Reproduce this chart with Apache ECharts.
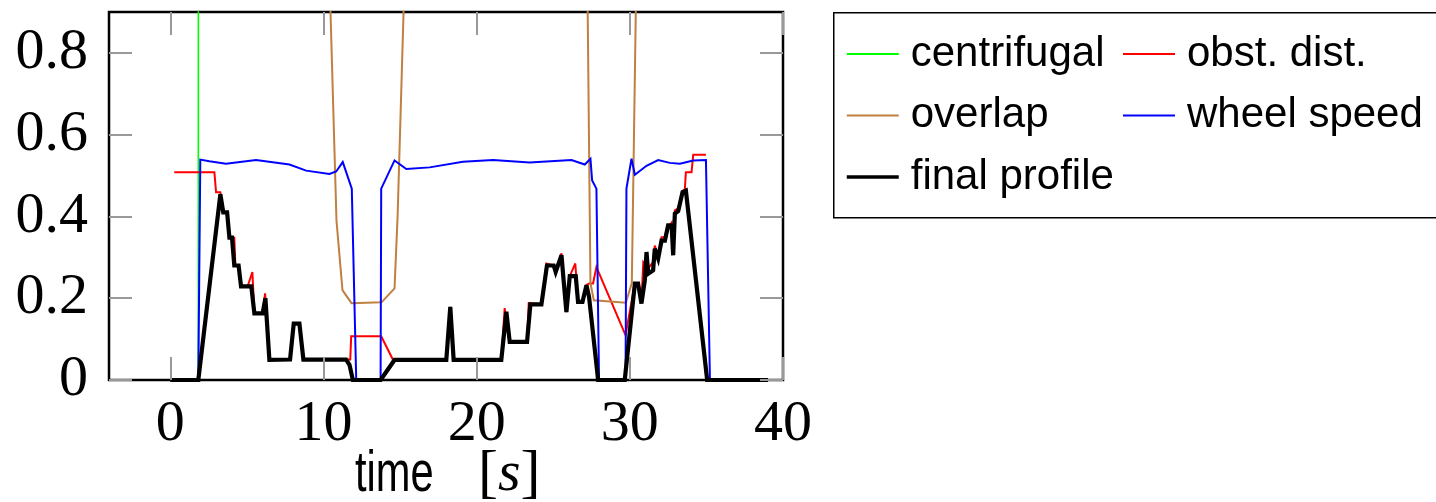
<!DOCTYPE html>
<html>
<head>
<meta charset="utf-8">
<script src="https://cdn.jsdelivr.net/npm/echarts@6/dist/echarts.min.js"></script>
<style>
html,body{margin:0;padding:0;background:#fff;}
#chart{width:1436px;height:502px;}
</style>
</head>
<body>
<div id="chart"></div>
<script>
// ---- data: [time (s), value] ----
const xTicks = [0, 10, 20, 30, 40];
const yTicks = [0, 0.2, 0.4, 0.6, 0.8];
const seriesNames = ['centrifugal', 'obst. dist.', 'overlap', 'wheel speed', 'final profile'];
const xTitle = 'time';
const xUnit = 's';

const centrifugal = [[0,0],[1.83,0],[1.84,3],[39.15,3]];

const obstDist = [[0.26,0.508],[2.88,0.508],[2.99,0.459],[3.27,0.459],[3.46,0.41],[3.71,0.41],[3.86,0.348],[4.18,0.348],[4.25,0.28],[4.46,0.28],[4.62,0.229],[5.05,0.229],[5.36,0.264],[5.49,0.163],[6.03,0.163],[6.19,0.212],[6.47,0.049],[7.82,0.05],[8.06,0.138],[8.43,0.138],[8.69,0.05],[11.75,0.05],[11.81,0.107],[13.77,0.107],[14.53,0.05],[14.64,0.049],[18.02,0.049],[18.28,0.179],[18.5,0.049],[21.61,0.049],[21.83,0.176],[22.16,0.093],[23.29,0.093],[23.4,0.188],[24.23,0.185],[24.56,0.285],[25.03,0.28],[25.16,0.268],[25.54,0.31],[25.64,0.26],[25.86,0.166],[26.08,0.254],[26.44,0.285],[26.62,0.191],[26.91,0.191],[27.17,0.232],[27.34,0.236],[27.6,0.236],[27.82,0.276],[29.72,0.11],[30.33,0.236],[30.54,0.236],[30.76,0.195],[30.88,0.288],[31.2,0.273],[31.52,0.288],[31.63,0.329],[31.85,0.305],[32.07,0.349],[32.29,0.349],[32.4,0.368],[32.73,0.385],[32.83,0.317],[32.94,0.415],[33.16,0.42],[33.44,0.463],[33.59,0.465],[33.66,0.508],[34.03,0.508],[34.14,0.551],[34.97,0.551]];

const overlap = [[10.0,1.5],[10.46,0.9],[10.85,0.39],[11.24,0.22],[11.83,0.188],[13.79,0.19],[14.64,0.224],[14.84,0.4],[15.23,0.9],[15.6,1.5],[27.2,1.5],[27.25,0.9],[27.43,0.237],[27.65,0.195],[29.74,0.189],[30.13,0.237],[30.39,0.9],[30.45,1.5]];

const wheelSpeed = [[0,0],[1.83,0],[1.96,0.539],[2.09,0.539],[2.55,0.535],[3.64,0.529],[5.6,0.538],[7.78,0.527],[8.87,0.512],[10.39,0.504],[10.83,0.51],[11.26,0.533],[11.85,0.468],[12.14,0],[13.73,0],[13.77,0.468],[14.64,0.537],[15.41,0.516],[16.93,0.52],[19.1,0.534],[21.07,0.538],[23.46,0.532],[26.19,0.538],[27.06,0.527],[27.43,0.541],[27.54,0.488],[27.82,0.468],[27.99,0],[29.72,0],[29.78,0.468],[30.11,0.541],[30.33,0.502],[31.09,0.524],[31.85,0.538],[32.61,0.531],[33.27,0.529],[34.14,0.537],[34.97,0.538],[35.23,0],[39.15,0]];

const finalProfile = [[0,0],[1.83,0],[3.27,0.454],[3.46,0.41],[3.71,0.41],[3.86,0.348],[4.03,0.348],[4.18,0.28],[4.46,0.28],[4.62,0.229],[5.05,0.229],[5.29,0.229],[5.49,0.163],[6.03,0.163],[6.21,0.2],[6.47,0.049],[7.82,0.05],[8.06,0.138],[8.43,0.138],[8.69,0.05],[11.48,0.05],[11.7,0.037],[11.92,0],[13.73,0],[14.64,0.049],[18.02,0.049],[18.28,0.179],[18.5,0.049],[21.61,0.049],[21.94,0.167],[22.16,0.093],[23.29,0.093],[23.51,0.185],[24.23,0.185],[24.59,0.28],[25.03,0.28],[25.16,0.264],[25.54,0.305],[25.64,0.26],[25.86,0.166],[26.08,0.254],[26.47,0.254],[26.62,0.191],[26.91,0.191],[27.17,0.232],[27.34,0.203],[27.93,0],[29.67,0],[30.33,0.236],[30.54,0.236],[30.76,0.187],[30.98,0.244],[31.09,0.313],[31.2,0.26],[31.52,0.268],[31.63,0.321],[31.85,0.297],[32.07,0.341],[32.29,0.341],[32.5,0.378],[32.73,0.378],[32.83,0.305],[32.94,0.407],[33.16,0.413],[33.44,0.459],[33.66,0.463],[35.05,0],[39.02,0]];

// ---- chart ----
const chart = echarts.init(document.getElementById('chart'), null, {renderer: 'canvas'});
const serif = 'Liberation Serif';
const sans = 'Liberation Sans';
const tickStyle = {show: true, inside: true, length: 23, lineStyle: {color: '#999999', width: 2}};
const noLine = {show: false, onZero: false};

function lineSeries(name, data, color, width, z) {
  return {
    name: name, type: 'line', data: data, symbol: 'none', showSymbol: false,
    clip: true, animation: false, z: z,
    lineStyle: {color: color, width: width, join: 'miter', miterLimit: 4},
    itemStyle: {color: color}
  };
}

const legendText = {fontFamily: sans, fontSize: 42, color: '#000', lineHeight: 42, padding: [0, 0, 0, 7]};
const legendCommon = {orient: 'vertical', top: 33, padding: 0, itemWidth: 52, itemHeight: 14, itemGap: 19.5, z: 5,
  itemStyle: {opacity: 0}, lineStyle: {width: 2}, textStyle: legendText};

chart.setOption({
  animation: false,
  grid: {left: 109, right: 653, top: 12, bottom: 122, show: true, borderColor: '#000', borderWidth: 2.5,
         backgroundColor: 'transparent', containLabel: false, outerBoundsMode: 'none'},
  graphic: [{
    type: 'rect', left: 833, top: 12, z: 0,
    shape: {width: 640, height: 205},
    style: {fill: '#fff', stroke: '#000', lineWidth: 1.5}
  }, {
    type: 'text', x: 355, y: 475, scaleX: 0.73, originX: 0, z: 10,
    style: {text: xTitle, fontFamily: sans, fontSize: 57, fill: '#000', align: 'left', verticalAlign: 'middle'}
  }, {
    type: 'text', x: 478, y: 475, z: 10,
    style: {text: '{b|[}{c|' + xUnit + '}{b|]}', align: 'left', verticalAlign: 'middle',
      rich: {
        b: {fontFamily: serif, fontSize: 60, fill: '#000'},
        c: {fontFamily: serif, fontStyle: 'italic', fontSize: 58, fill: '#000'}
      }}
  }],
  legend: [Object.assign({
    data: [seriesNames[0], seriesNames[2], {name: seriesNames[4], lineStyle: {width: 3.5}}],
    left: 845
  }, legendCommon), Object.assign({
    data: [seriesNames[1], seriesNames[3]],
    left: 1122
  }, legendCommon)],
  xAxis: [{
    type: 'value', min: -4, max: 40, position: 'bottom', z: 8,
    axisLine: noLine, splitLine: {show: false},
    axisTick: Object.assign({customValues: xTicks}, tickStyle),
    axisLabel: {customValues: xTicks, fontFamily: serif, fontSize: 58, color: '#000', margin: 16}
  }, {
    type: 'value', min: -4, max: 40, position: 'top', z: 8,
    axisLine: noLine, splitLine: {show: false},
    axisTick: Object.assign({customValues: xTicks}, tickStyle),
    axisLabel: {show: false}
  }],
  yAxis: [{
    type: 'value', min: 0, max: 0.9, position: 'left', z: 8,
    axisLine: noLine, splitLine: {show: false},
    axisTick: Object.assign({customValues: yTicks}, tickStyle),
    axisLabel: {customValues: yTicks, fontFamily: serif, fontSize: 58, color: '#000', margin: 21,
      formatter: function (v) { return String(v); }}
  }, {
    type: 'value', min: 0, max: 0.9, position: 'right', z: 8,
    axisLine: noLine, splitLine: {show: false},
    axisTick: Object.assign({customValues: yTicks}, tickStyle),
    axisLabel: {show: false}
  }],
  series: [
    lineSeries(seriesNames[0], centrifugal, '#00ff00', 1.6, 2),
    lineSeries(seriesNames[1], obstDist, '#ff0000', 2, 3),
    lineSeries(seriesNames[2], overlap, '#bf8040', 2, 4),
    lineSeries(seriesNames[3], wheelSpeed, '#0000ff', 2, 5),
    lineSeries(seriesNames[4], finalProfile, '#000000', 4.2, 6)
  ]
});
</script>
</body>
</html>
